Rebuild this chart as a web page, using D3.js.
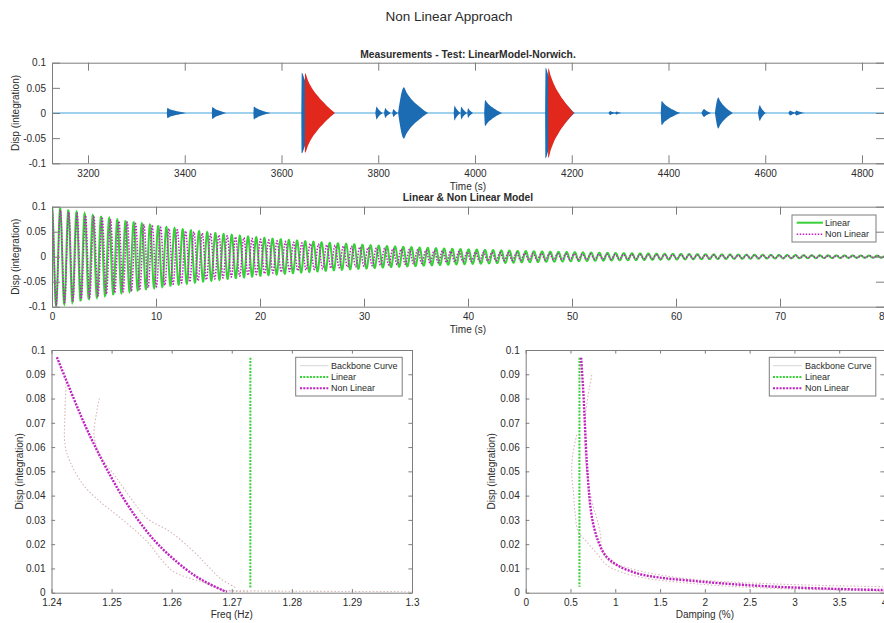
<!DOCTYPE html>
<html><head><meta charset="utf-8">
<script src="https://cdn.jsdelivr.net/npm/d3@7"></script>
<style>
body{margin:0;background:#fff}
svg{display:block}
text{font-family:"Liberation Sans",Arial,Helvetica,sans-serif;fill:#2b2b2b}
</style>
</head><body>
<svg id="c" width="884" height="623"></svg>
<script>
// ---------------- DATA ----------------
const figTitle = "Non Linear Approach";
const topTitle = "Measurements - Test: LinearModel-Norwich.";
const midTitle = "Linear & Non Linear Model";

// Top panel: measured bursts (start s, rise s, peak amplitude, decay length s)
const burstStart = [3364, 3457, 3543, 3642, 3797, 3815, 3832, 3853, 3958, 3972, 3986, 4021, 4146, 4280, 4293, 4386, 4474, 4503, 4589, 4652, 4665];
const burstRise  = [1, 1, 1, 1, 3, 3, 3, 12, 2, 2, 2, 2, 1, 4, 4, 2, 6, 7, 4, 4, 4];
const burstAmp   = [0.010, 0.012, 0.013, 0.080, 0.013, 0.010, 0.008, 0.051, 0.015, 0.013, 0.010, 0.026, 0.090, 0.004, 0.003, 0.024, 0.008, 0.031, 0.016, 0.005, 0.005];
const burstLen   = [40, 30, 34, 64, 12, 11, 9, 50, 12, 12, 10, 35, 60, 12, 10, 38, 14, 30, 12, 12, 16];
// selected (modelled) events drawn in red
const redStart = [3648.6, 4151.5];
const redAmp   = [0.079, 0.089];
const redLen   = [62, 53];
// normalised decay envelope of an event (read from the red events)
const decayProfile = [1, 0.82, 0.67, 0.55, 0.45, 0.36, 0.28, 0.20, 0.13, 0.06, 0];
const topXTicks = [3200, 3400, 3600, 3800, 4000, 4200, 4400, 4600, 4800];
const topYTicks = [-0.1, -0.05, 0, 0.05, 0.1];

// Middle panel: free decay envelopes of the two models
const modelTime    = [0, 5, 10, 15, 20, 25, 30, 35, 40, 45, 50, 55, 60, 65, 70, 75, 80];
const linearEnv    = [0.100, 0.0787, 0.0619, 0.0487, 0.0383, 0.0301, 0.0237, 0.0186, 0.0147, 0.0115, 0.0091, 0.0071, 0.0056, 0.0044, 0.0035, 0.0027, 0.0021];
const nonlinearEnv = [0.097, 0.076, 0.060, 0.046, 0.035, 0.026, 0.019, 0.014, 0.0095, 0.0072, 0.0056, 0.0045, 0.0037, 0.0030, 0.0025, 0.0020, 0.0017];
const linearFreqHz = 1.2731;
const midXTicks = [0, 10, 20, 30, 40, 50, 60, 70, 80];
const midYTicks = [-0.1, -0.05, 0, 0.05, 0.1];

// Bottom-left: frequency vs displacement
const nlDisp = [0.097, 0.08, 0.07, 0.06, 0.05, 0.04, 0.03, 0.02, 0.01, 0.005, 0.001, 0.0003];
const nlFreq = [1.2409, 1.2437, 1.2454, 1.2473, 1.2494, 1.2517, 1.2544, 1.2577, 1.2622, 1.2652, 1.2685, 1.2692];
const linDisp = [0.0968, 0.0018];
const linFreq = [1.2731, 1.2731];
const bbFreqA = [[1.24242,0.0863],[1.24225,0.0746],[1.24225,0.0609],[1.24308,0.0540],[1.2453,0.0444],[1.24808,0.0375],[1.25087,0.0320],[1.2542,0.0251],[1.25642,0.0197],[1.25808,0.0142],[1.2603,0.0087],[1.26308,0.0059],[1.26587,0.0039],[1.26863,0.0011],[1.27308,0.0004]];
const bbFreqB = [[1.24797,0.0801],[1.24753,0.0746],[1.24708,0.0650],[1.24808,0.0567],[1.25087,0.0471],[1.25363,0.0375],[1.25587,0.0307],[1.25975,0.0251],[1.26308,0.0183],[1.26587,0.0114],[1.26808,0.0059],[1.27087,0.0018]];
const bbFreqTail = [[1.2690,0.0009],[1.2750,0.0007],[1.2800,0.0006],[1.2900,0.0005],[1.3000,0.0004]];
const freqXTicks = [1.24, 1.25, 1.26, 1.27, 1.28, 1.29, 1.30];
const dispTicks = [0, 0.01, 0.02, 0.03, 0.04, 0.05, 0.06, 0.07, 0.08, 0.09, 0.1];

// Bottom-right: damping vs displacement
const nlDampDisp = [0.0968, 0.0815, 0.0677, 0.054, 0.0444, 0.0361, 0.0279, 0.021, 0.0155, 0.0114, 0.008, 0.0062, 0.0051, 0.0039, 0.0025, 0.0015, 0.0011, 0.0009];
const nlDamp     = [0.619, 0.645, 0.663, 0.682, 0.700, 0.720, 0.756, 0.812, 0.887, 1.018, 1.24, 1.50, 1.80, 2.17, 2.77, 3.52, 4.0, 4.3];
const linDampDisp = [0.0968, 0.0025];
const linDamp     = [0.60, 0.60];
const bbDampA = [[0.737,0.0897],[0.710,0.0842],[0.681,0.0773],[0.662,0.0705],[0.66,0.060],[0.70,0.045],[0.75,0.036],[0.793,0.0307],[0.829,0.0251],[0.86,0.0169],[0.941,0.0128],[1.164,0.0100],[1.499,0.0073],[1.871,0.0055],[2.4,0.0042],[3.2,0.0031],[4.1,0.0024]];
const bbDampB = [[0.569,0.065],[0.525,0.0567],[0.513,0.0499],[0.532,0.0416],[0.550,0.0334],[0.588,0.0251],[0.681,0.021],[0.793,0.0162],[0.904,0.0114],[1.053,0.0087],[1.351,0.0059],[1.723,0.0043],[2.169,0.0029],[2.764,0.0018],[3.99,0.0007],[4.2,0.0006]];
const dampXTicks = [0, 0.5, 1, 1.5, 2, 2.5, 3, 3.5, 4];

// ---------------- STYLE ----------------
const C = {axis:"#7d7d7d", blue:"#1b6cb3", lightBlue:"#9fd0ee", red:"#e2271d",
  green:"#38d038", magenta:"#c21fc2", backbone:"#d6b6b6"};
const svg = d3.select("#c");

function fmt(v){ return String(+v.toFixed(4)); }

function axes(g, x, y, xt, yt, tl, xlab, ylab, ylabX, xlabY) {
  const [x0, x1] = x.range(), [yb, yt0] = y.range();
  const styleAx = s => { s.selectAll("path").attr("stroke", C.axis);
    s.selectAll("line").attr("stroke", C.axis);
    s.selectAll("text").attr("font-size", 10).attr("fill", "#2b2b2b"); };
  g.append("g").attr("transform", `translate(0,${yb})`)
    .call(d3.axisBottom(x).tickValues(xt).tickFormat(fmt).tickSizeInner(-tl).tickSizeOuter(0).tickPadding(6.5)).call(styleAx);
  g.append("g").attr("transform", `translate(0,${yt0})`)
    .call(d3.axisTop(x).tickValues(xt).tickFormat("").tickSizeInner(-tl).tickSizeOuter(0)).call(styleAx);
  g.append("g").attr("transform", `translate(${x0},0)`)
    .call(d3.axisLeft(y).tickValues(yt).tickFormat(fmt).tickSizeInner(-tl).tickSizeOuter(0).tickPadding(6)).call(styleAx);
  g.append("g").attr("transform", `translate(${x1},0)`)
    .call(d3.axisRight(y).tickValues(yt).tickFormat("").tickSizeInner(-tl).tickSizeOuter(0)).call(styleAx);
  g.selectAll(".domain").attr("stroke", C.axis);
  g.append("text").attr("x", (x0 + x1) / 2).attr("y", xlabY).attr("text-anchor", "middle")
    .attr("font-size", 10).text(xlab);
  g.append("text").attr("transform", `translate(${ylabX},${(yb + yt0) / 2}) rotate(-90)`)
    .attr("text-anchor", "middle").attr("dy", "0.32em").attr("font-size", 10).text(ylab);
}

function clip(id, x, y) {
  const [x0, x1] = x.range(), [yb, yt0] = y.range();
  svg.append("clipPath").attr("id", id).append("rect")
    .attr("x", x0).attr("y", yt0).attr("width", x1 - x0).attr("height", yb - yt0);
  return svg.append("g").attr("clip-path", `url(#${id})`);
}

// figure title
svg.append("text").attr("x", 449).attr("y", 21).attr("text-anchor", "middle")
  .attr("font-size", 13.5).text(figTitle);

// ---------------- TOP PANEL ----------------
{
  const x = d3.scaleLinear().domain([3125.6, 4845.5]).range([52, 884]);
  const y = d3.scaleLinear().domain([-0.1, 0.1]).range([163.3, 62.7]);
  const g = clip("clipTop", x, y);
  g.append("line").attr("x1", x(3125.6)).attr("x2", x(4845.5)).attr("y1", y(0)).attr("y2", y(0))
    .attr("stroke", C.lightBlue).attr("stroke-width", 2);
  const env = (s, r, a, L) => {
    const pts = [[s - r, 0], [s, a]];
    decayProfile.forEach((p, i) => { if (i > 0) pts.push([s + L * i / (decayProfile.length - 1), a * p]); });
    return pts;
  };
  const area = d3.area().x(d => x(d[0])).y0(d => y(-d[1])).y1(d => y(d[1])).curve(d3.curveMonotoneX);
  burstStart.forEach((s, i) => g.append("path").attr("d", area(env(s, burstRise[i], burstAmp[i], burstLen[i])))
    .attr("fill", C.blue));
  redStart.forEach((s, i) => g.append("path").attr("d", area(env(s, 0.3, redAmp[i], redLen[i])))
    .attr("fill", C.red));
  axes(svg.append("g"), x, y, topXTicks, topYTicks, 8, "Time (s)", "Disp (integration)", 15.5, 190);
  svg.append("text").attr("x", 468).attr("y", 58).attr("text-anchor", "middle")
    .attr("font-size", 10.3).attr("font-weight", "bold").text(topTitle);
}

// ---------------- MIDDLE PANEL ----------------
{
  const x = d3.scaleLinear().domain([0, 80]).range([52, 884]);
  const y = d3.scaleLinear().domain([-0.1, 0.1]).range([306.7, 206.7]);
  const g = clip("clipMid", x, y);
  const logEnv = e => { const s = d3.scaleLinear().domain(modelTime).range(e.map(Math.log)); return t => Math.exp(s(t)); };
  const aLin = logEnv(linearEnv), aNL = logEnv(nonlinearEnv);
  const fNL = d3.scaleLinear().domain(nlDisp).range(nlFreq).clamp(true);
  const dt = 0.02, lin = [], nl = [];
  let phL = 0, phN = 0;
  for (let t = 0; t <= 80 + 1e-9; t += dt) {
    const aL = aLin(t), aN = aNL(t);
    lin.push([t, aL * Math.cos(phL)]);
    nl.push([t, aN * Math.cos(phN)]);
    phL += 2 * Math.PI * linearFreqHz * dt;
    phN += 2 * Math.PI * fNL(aN) * dt;
  }
  const line = d3.line().x(d => x(d[0])).y(d => y(d[1]));
  g.append("path").attr("d", line(lin)).attr("fill", "none").attr("stroke", C.green).attr("stroke-width", 2);
  g.append("path").attr("d", line(nl)).attr("fill", "none").attr("stroke", C.magenta)
    .attr("stroke-width", 1.5).attr("stroke-dasharray", "1.5 1.5");
  axes(svg.append("g"), x, y, midXTicks, midYTicks, 8, "Time (s)", "Disp (integration)", 15.5, 333);
  svg.append("text").attr("x", 468).attr("y", 201).attr("text-anchor", "middle")
    .attr("font-size", 10.3).attr("font-weight", "bold").text(midTitle);
  // legend
  const lg = svg.append("g");
  lg.append("rect").attr("x", 792).attr("y", 215).attr("width", 84).attr("height", 27)
    .attr("fill", "#fff").attr("stroke", C.axis);
  [["Linear", C.green, null, 2, 222.7], ["Non Linear", C.magenta, "1.5 1.5", 1.5, 234.3]].forEach(e => {
    lg.append("line").attr("x1", 796.7).attr("x2", 823).attr("y1", e[4]).attr("y2", e[4])
      .attr("stroke", e[1]).attr("stroke-width", e[3]).attr("stroke-dasharray", e[2]);
    lg.append("text").attr("x", 825).attr("y", e[4]).attr("dy", "0.35em").attr("font-size", 9).text(e[0]);
  });
}

// ---------------- BOTTOM PANELS ----------------
function legend3(x0, lineX0, lineX1, textX) {
  const lg = svg.append("g");
  lg.append("rect").attr("x", x0).attr("y", 357.3).attr("width", 106.5).attr("height", 38.7)
    .attr("fill", "#fff").attr("stroke", C.axis);
  [["Backbone Curve", "#c9c9c9", null, 0.8, 365.7], ["Linear", C.green, "2 1.3", 2, 377],
   ["Non Linear", C.magenta, "2 1.3", 2, 388.3]].forEach(e => {
    lg.append("line").attr("x1", lineX0).attr("x2", lineX1).attr("y1", e[4]).attr("y2", e[4])
      .attr("stroke", e[1]).attr("stroke-width", e[3]).attr("stroke-dasharray", e[2]);
    lg.append("text").attr("x", textX).attr("y", e[4]).attr("dy", "0.35em").attr("font-size", 9).text(e[0]);
  });
}
function drawCurves(g, x, y, backbones, linX, linY, nlX, nlY) {
  const line = d3.line().x(d => x(d[0])).y(d => y(d[1])).curve(d3.curveCatmullRom.alpha(0.5));
  backbones.forEach(b => g.append("path").attr("d", line(b)).attr("fill", "none")
    .attr("stroke", C.backbone).attr("stroke-width", 1.1).attr("stroke-dasharray", "1.5 2"));
  g.append("path").attr("d", line(linX.map((v, i) => [v, linY[i]]))).attr("fill", "none")
    .attr("stroke", C.green).attr("stroke-width", 2).attr("stroke-dasharray", "2 1.3");
  g.append("path").attr("d", line(nlX.map((v, i) => [v, nlY[i]]))).attr("fill", "none")
    .attr("stroke", C.magenta).attr("stroke-width", 2.4).attr("stroke-dasharray", "2 1.3");
}
{
  const x = d3.scaleLinear().domain([1.24, 1.30]).range([51.5, 412]);
  const y = d3.scaleLinear().domain([0, 0.1]).range([592.7, 350]);
  const g = clip("clipBL", x, y);
  drawCurves(g, x, y, [bbFreqA, bbFreqB, bbFreqTail], linFreq, linDisp, nlFreq, nlDisp);
  axes(svg.append("g"), x, y, freqXTicks, dispTicks, 3.6, "Freq (Hz)", "Disp (integration)", 20, 618);
  legend3(295.7, 300, 328.3, 331);
}
{
  const x = d3.scaleLinear().domain([0, 4]).range([525.7, 884]);
  const y = d3.scaleLinear().domain([0, 0.1]).range([592.7, 350]);
  const g = clip("clipBR", x, y);
  drawCurves(g, x, y, [bbDampA, bbDampB], linDamp, linDampDisp, nlDamp, nlDampDisp);
  axes(svg.append("g"), x, y, dampXTicks, dispTicks, 3.6, "Damping (%)", "Disp (integration)", 491.7, 618);
  legend3(769.3, 773, 801.7, 805);
}
</script>
</body></html>
